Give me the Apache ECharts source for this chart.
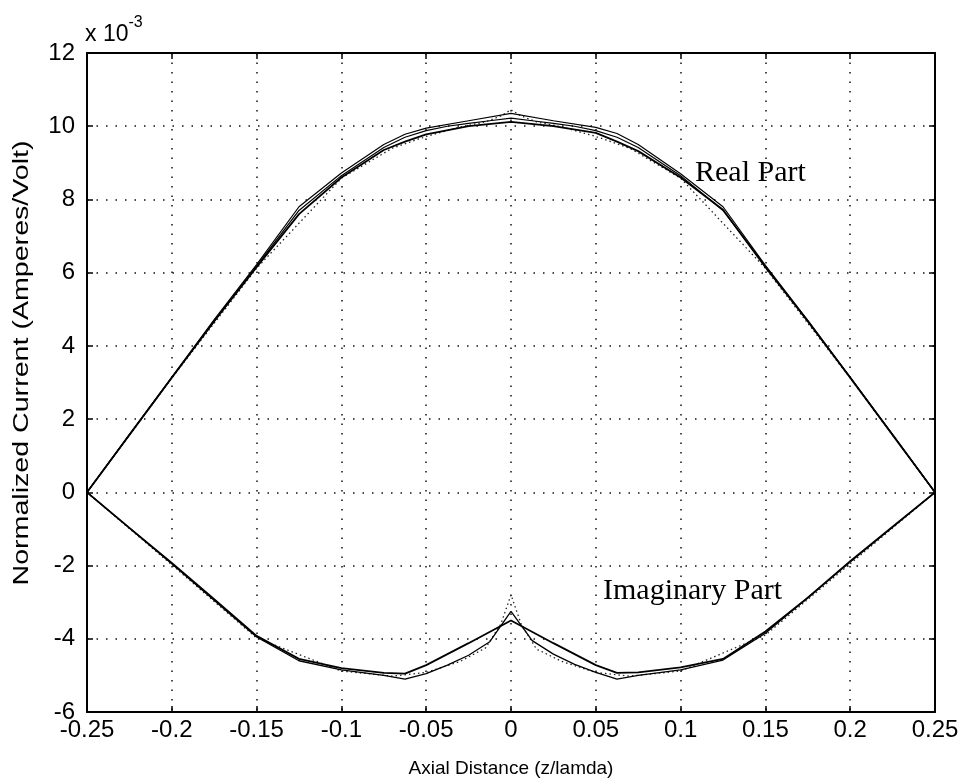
<!DOCTYPE html>
<html>
<head>
<meta charset="utf-8">
<script src="https://cdn.jsdelivr.net/npm/echarts@6/dist/echarts.min.js"></script>
<style>
  html, body { margin: 0; padding: 0; background: #fff; }
  #chart { width: 965px; height: 783px; }
</style>
</head>
<body>
<div id="chart"></div>
<script>
// Axial positions (z/lambda) for the main current solutions
const zMain = [-0.25, -0.225, -0.2, -0.175, -0.15, -0.125, -0.1, -0.075, -0.0625, -0.05, -0.025, 0,
               0.025, 0.05, 0.0625, 0.075, 0.1, 0.125, 0.15, 0.175, 0.2, 0.225, 0.25];

// Real part of the current (x 10^-3 A/V)
const realUpper = [0, 1.58, 3.15, 4.72, 6.22, 7.8, 8.72, 9.5, 9.78, 9.95, 10.15, 10.35,
                   10.15, 9.97, 9.8, 9.5, 8.7, 7.8, 6.2, 4.7, 3.15, 1.58, 0];
const realLower = [0, 1.57, 3.13, 4.68, 6.15, 7.6, 8.6, 9.35, 9.58, 9.78, 10.0, 10.12,
                   10.0, 9.82, 9.58, 9.32, 8.6, 7.72, 6.15, 4.68, 3.13, 1.57, 0];

// Imaginary part of the current (x 10^-3 A/V)
const imagSmooth = [0, -0.97, -1.93, -2.92, -3.92, -4.55, -4.8, -4.93, -4.95, -4.72, -4.12, -3.5,
                    -4.12, -4.72, -4.93, -4.92, -4.78, -4.55, -3.8, -2.88, -1.88, -0.94, 0];

// Finer-sampled solution with the wobbly approach to the feed
const zFine = [-0.25, -0.2, -0.15, -0.125, -0.1, -0.075, -0.0625, -0.05, -0.0375, -0.025, -0.0125, 0,
               0.0125, 0.025, 0.0375, 0.05, 0.0625, 0.075, 0.1, 0.125, 0.15, 0.2, 0.25];
const imagFine = [0, -1.95, -3.95, -4.6, -4.85, -5.0, -5.1, -4.95, -4.72, -4.45, -4.08, -3.25,
                  -4.05, -4.42, -4.7, -4.92, -5.1, -5.0, -4.85, -4.58, -3.85, -1.9, 0];
const realFine = [0, 3.14, 6.18, 7.7, 8.65, 9.42, 9.7, 9.88, 10.0, 10.08, 10.15, 10.22,
                  10.15, 10.08, 10.0, 9.88, 9.7, 9.42, 8.65, 7.7, 6.18, 3.14, 0];

// Coarse dotted solution with a spike at the feed gap
const zDot = [-0.25, -0.2, -0.15, -0.1, -0.07, -0.05, -0.03, -0.015, -0.006, 0,
              0.006, 0.015, 0.03, 0.05, 0.07, 0.1, 0.15, 0.2, 0.25];
const imagDot = [0, -1.98, -3.98, -4.88, -5.02, -4.92, -4.62, -4.25, -3.6, -2.8,
                 -3.6, -4.28, -4.62, -4.92, -5.02, -4.88, -3.9, -1.95, 0];
const realDot = [0, 3.12, 6.12, 8.58, 9.4, 9.72, 9.98, 10.12, 10.28, 10.45,
                 10.28, 10.12, 9.98, 9.72, 9.4, 8.58, 6.12, 3.12, 0];

// Tick labels along the axes
const xTickLabels = ['-0.25', '-0.2', '-0.15', '-0.1', '-0.05', '0', '0.05', '0.1', '0.15', '0.2', '0.25'];
const yTickLabels = ['-6', '-4', '-2', '0', '2', '4', '6', '8', '10', '12'];

const pairs = (xs, ys) => xs.map((x, i) => [x, ys[i]]);

const sansFont = "'Liberation Sans', Arial, Helvetica, sans-serif";
const serifFont = "'Liberation Serif', 'Times New Roman', serif";
const gridDots = { color: '#111', width: 1.5, type: [1.5, 8] };

const chart = echarts.init(document.getElementById('chart'), null, { renderer: 'canvas' });

const line = (data, width, type, color) => ({
  type: 'line', data, symbol: 'none', smooth: false, animation: false,
  lineStyle: { color: color || '#000', width, type: type || 'solid' }
});

const frameAxis = {
  axisLine: { show: true, onZero: false, lineStyle: { color: '#000', width: 2 } },
  axisTick: { show: true, inside: true, length: 6, lineStyle: { color: '#000', width: 1.5 } }
};

chart.setOption({
  backgroundColor: '#fff',
  animation: false,
  grid: { left: 87, right: 30, top: 53, bottom: 67 },
  xAxis: [{
    type: 'value', min: -0.25, max: 0.25, interval: 0.05,
    name: 'Axial Distance (z/lamda)', nameLocation: 'middle', nameGap: 47,
    nameTextStyle: { fontFamily: sansFont, fontSize: 19, color: '#000' },
    ...frameAxis,
    axisLabel: {
      color: '#000', fontFamily: sansFont, fontSize: 24, margin: 6,
      formatter: v => xTickLabels[Math.round((v + 0.25) / 0.05)]
    },
    splitLine: { show: true, lineStyle: gridDots }
  }, {
    type: 'value', position: 'top', min: -0.25, max: 0.25, interval: 0.05,
    ...frameAxis,
    axisLabel: { show: false }, splitLine: { show: false }
  }],
  yAxis: [{
    type: 'value', min: -6, max: 12, interval: 2,
    ...frameAxis,
    axisLabel: {
      color: '#000', fontFamily: sansFont, fontSize: 24, margin: 12,
      formatter: v => yTickLabels[Math.round((v + 6) / 2)]
    },
    splitLine: { show: true, lineStyle: gridDots }
  }, {
    type: 'value', position: 'right', min: -6, max: 12, interval: 2,
    ...frameAxis,
    axisLabel: { show: false }, splitLine: { show: false }
  }],
  series: [
    line(pairs(zDot, realDot), 1.3, [1.5, 3], '#222'),
    line(pairs(zDot, imagDot), 1.3, [1.5, 3], '#222'),
    line(pairs(zFine, realFine), 1.2),
    line(pairs(zFine, imagFine), 1.3),
    line(pairs(zMain, realLower), 1.8),
    line(pairs(zMain, realUpper), 1.2),
    line(pairs(zMain, imagSmooth), 1.8)
  ],
  graphic: [
    {
      // vertical axis title, drawn tall and narrow
      type: 'text', x: 22, y: 363, rotation: Math.PI / 2, scaleX: 1.3,
      style: {
        text: 'Normalized Current (Amperes/Volt)', font: '22px ' + sansFont, fill: '#000',
        textAlign: 'center', textVerticalAlign: 'middle'
      }
    },
    {
      type: 'text', left: 85, top: 15,
      style: {
        text: '{b|x 10}{s|-3}',
        rich: {
          b: { fontFamily: sansFont, fontSize: 23, fill: '#000', verticalAlign: 'bottom', padding: [8, 0, 0, 0] },
          s: { fontFamily: sansFont, fontSize: 16, fill: '#000', verticalAlign: 'top' }
        }
      }
    },
    {
      type: 'text', x: 695, y: 158,
      style: { text: 'Real Part', font: '30px ' + serifFont, fill: '#000', textVerticalAlign: 'top' }
    },
    {
      type: 'text', x: 603, y: 576,
      style: { text: 'Imaginary Part', font: '30px ' + serifFont, fill: '#000', textVerticalAlign: 'top' }
    }
  ]
});
</script>
</body>
</html>
